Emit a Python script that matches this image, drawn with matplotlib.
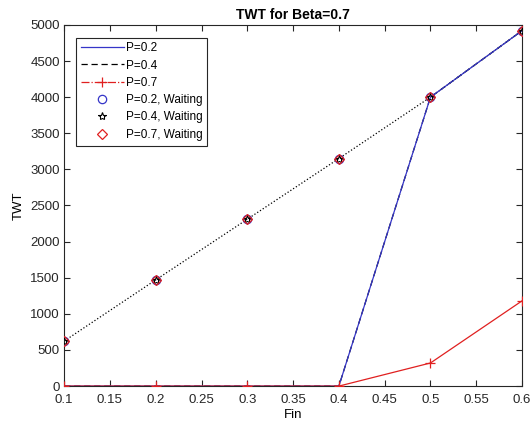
import numpy as np
import matplotlib
matplotlib.use('Agg')
import matplotlib.pyplot as plt
from matplotlib.lines import Line2D

plt.rcParams['font.family'] = ['Liberation Sans', 'DejaVu Sans']

fin = [0.1, 0.2, 0.3, 0.4, 0.5, 0.6]
twt_p02 = [0, 0, 0, 0, 4000, 4920]
twt_p04 = [0, 0, 0, 0, 4000, 4920]
twt_p07 = [0, 0, 0, 0, 320, 1180]
waiting = [623, 1470, 2310, 3150, 4000, 4920]

blue = '#3535c8'
red = '#e02020'

fig = plt.figure(figsize=(5.3, 4.29), dpi=100)
ax = fig.add_axes([0.121, 0.10, 0.864, 0.842])

ax.plot(fin, waiting, ':', color='black', lw=0.9, zorder=1)
h04, = ax.plot(fin, twt_p04, ls=(0, (5, 3)), color='black', lw=0.9, zorder=2)
h02, = ax.plot(fin, twt_p02, '-', color=blue, lw=0.9, zorder=3)
# dash-dot reads as a solid line at this size in the reference
ax.plot(fin, twt_p07, '-', color=red, lw=0.9, marker='+', ms=7, mew=0.9, zorder=4)
h07 = Line2D([], [], ls='-.', color=red, lw=0.9, marker='+', ms=7, mew=0.9)
hw02, = ax.plot(fin, waiting, 'o', color=blue, mfc='none', ms=6, mew=0.9, zorder=5)
hw04, = ax.plot(fin, waiting, '*', color='black', mfc='none', ms=6, mew=0.8, zorder=6)
hw07, = ax.plot(fin, waiting, 'D', color=red, mfc='none', ms=5, mew=0.9, zorder=7)

ax.set_xlim(0.1, 0.6)
ax.set_ylim(0, 5000)
ax.set_xticks(np.arange(0.1, 0.601, 0.05))
ax.set_xticklabels(['0.1', '0.15', '0.2', '0.25', '0.3', '0.35', '0.4',
                    '0.45', '0.5', '0.55', '0.6'])
ax.set_yticks(np.arange(0, 5001, 500))
ax.tick_params(direction='in', labelsize=9.5, top=True, right=True, length=4,
               width=0.8, colors='#262626')
ax.tick_params(axis='x', pad=6)
ax.tick_params(axis='y', pad=3)
for s in ax.spines.values():
    s.set_color('#262626')
    s.set_linewidth(0.8)

ax.set_xlabel('Fin', fontsize=9.5, labelpad=2)
ax.set_ylabel('TWT', fontsize=9.5)
ax.set_title('TWT for Beta=0.7', fontsize=10, fontweight='bold', pad=4)

labels = ['P=0.2', 'P=0.4', 'P=0.7', 'P=0.2, Waiting', 'P=0.4, Waiting', 'P=0.7, Waiting']
leg = ax.legend([h02, h04, h07, hw02, hw04, hw07], labels, loc='upper left',
                bbox_to_anchor=(0.027, 0.965), fontsize=8.5, fancybox=False,
                edgecolor='#262626', framealpha=1, handlelength=3.6,
                borderpad=0.4, labelspacing=0.45, handletextpad=0.2,
                borderaxespad=0)
leg.get_frame().set_linewidth(0.8)

fig.savefig('out.png', dpi=100)
